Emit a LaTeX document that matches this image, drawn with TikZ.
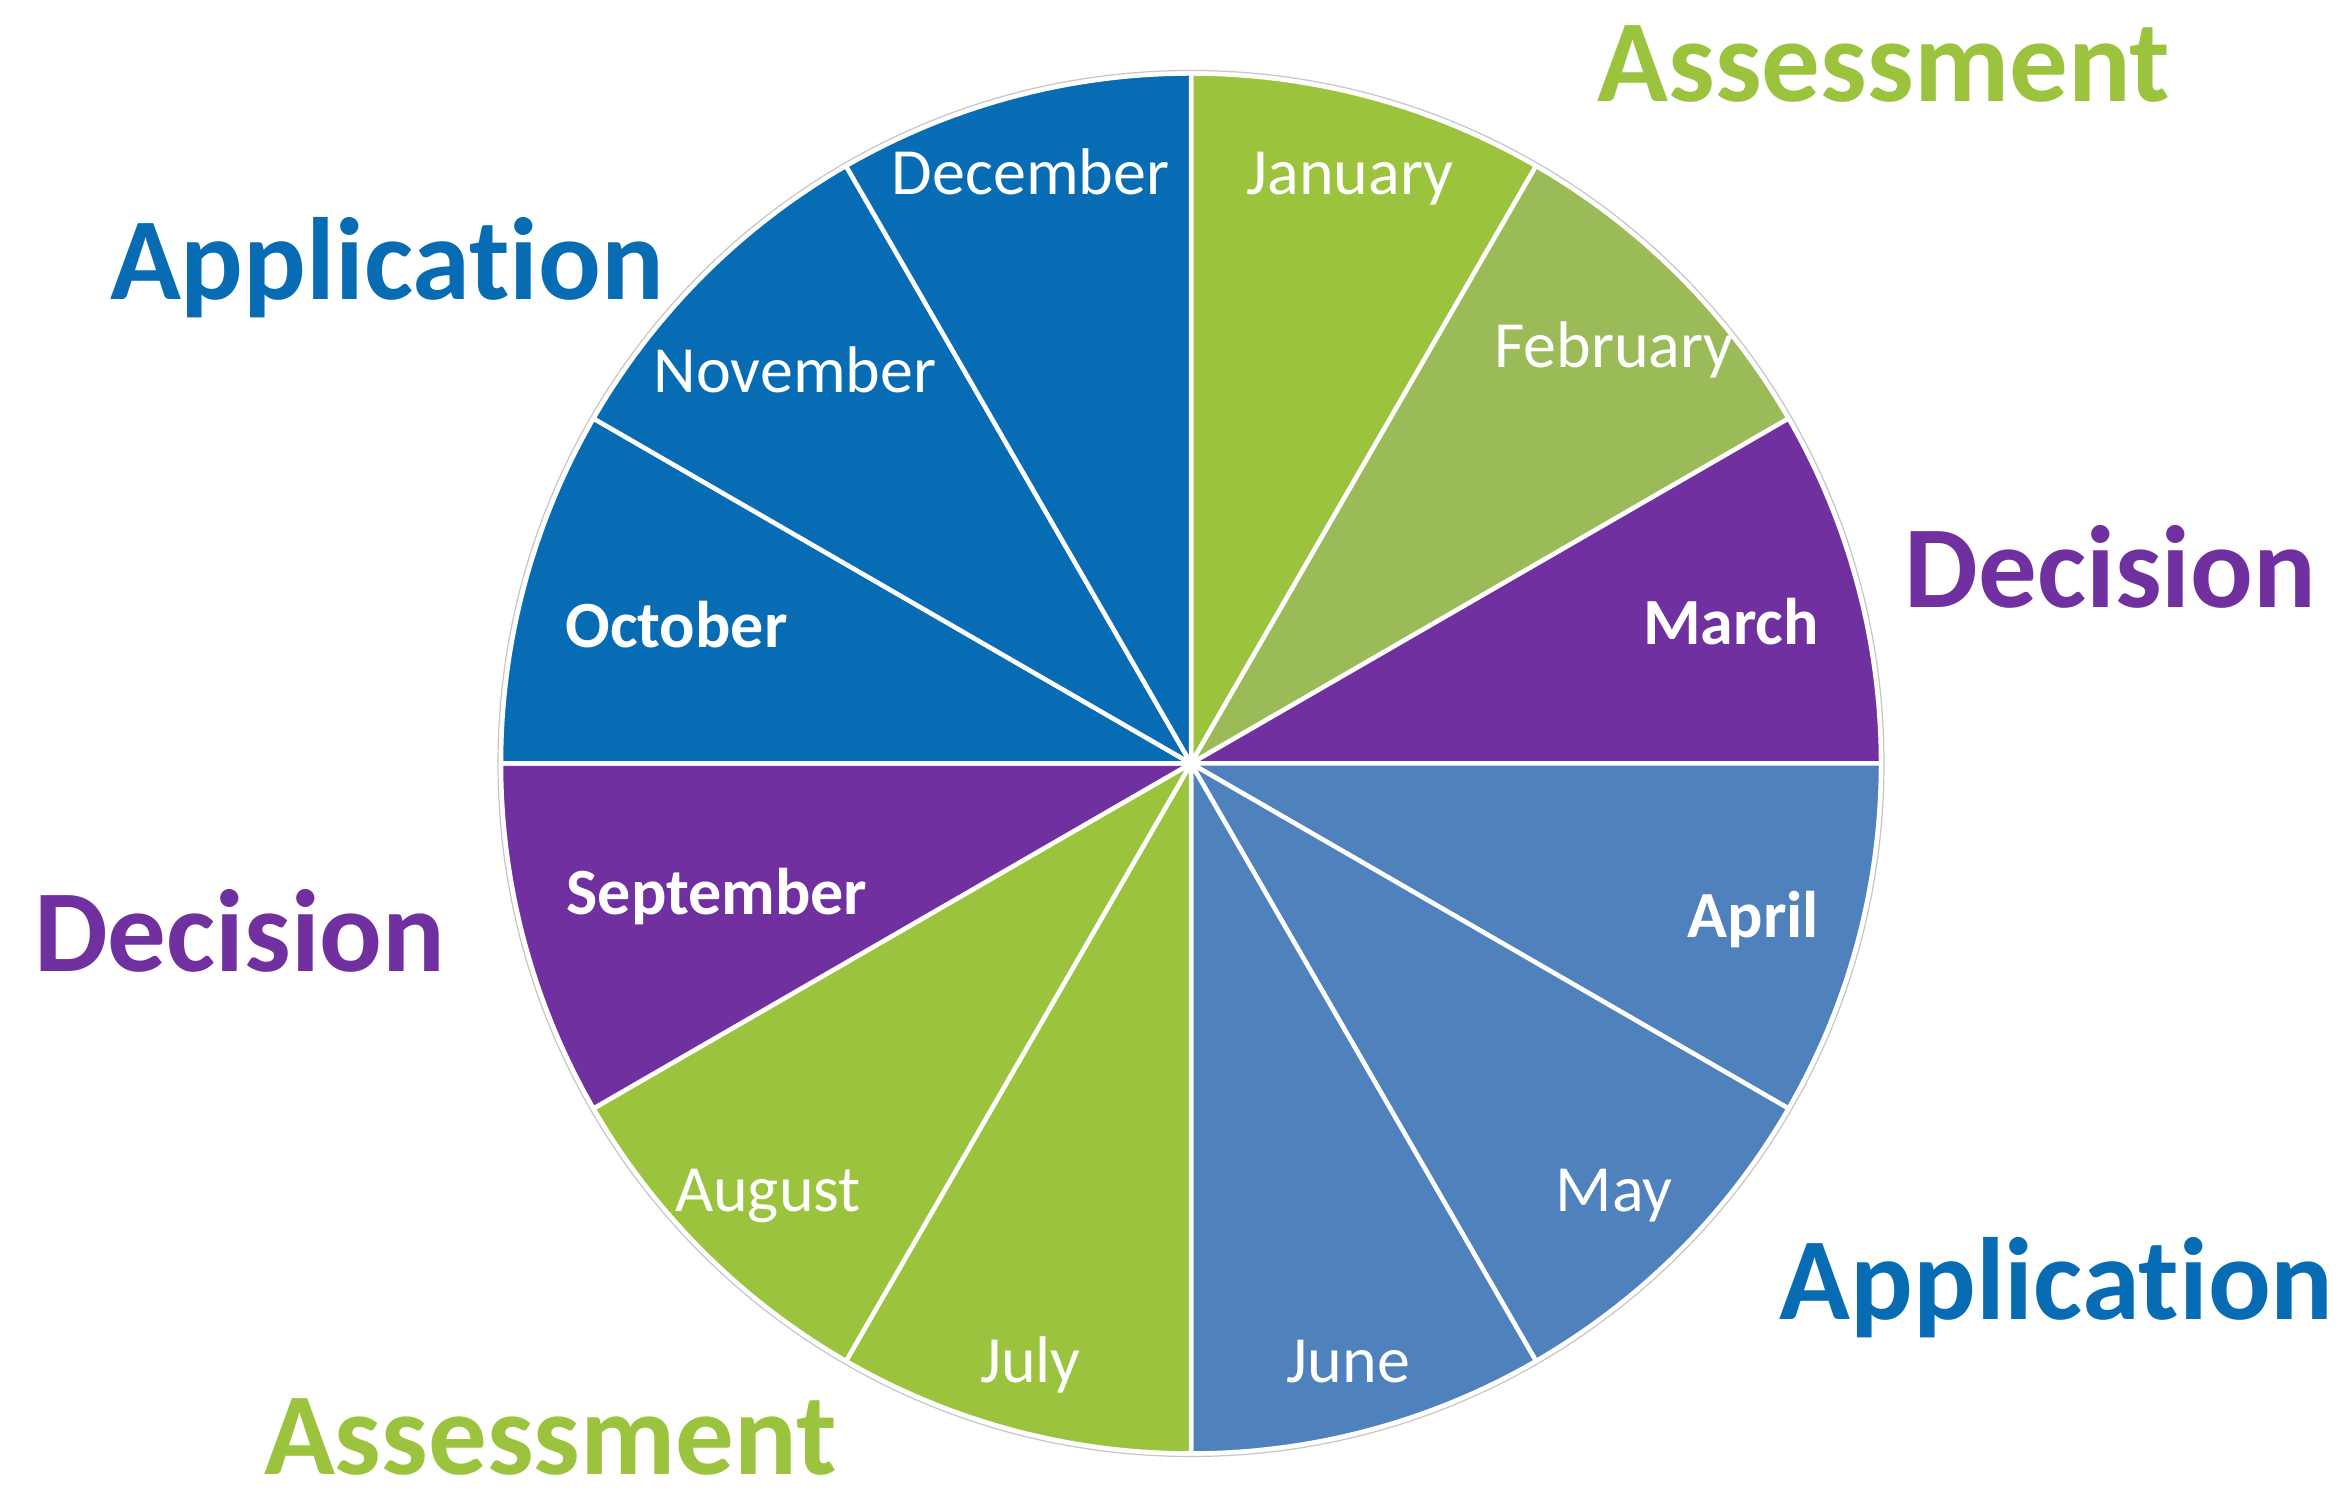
\documentclass[tikz,border=0pt]{standalone}
\usepackage{fontspec}
\setmainfont{Carlito}[Ligatures={NoCommon,NoContextual}]
\definecolor{appblue}{RGB}{7,108,179}
\definecolor{assessgreen}{RGB}{155,195,61}
\definecolor{olivegreen}{RGB}{155,187,89}
\definecolor{decpurple}{RGB}{112,48,160}
\definecolor{lightblue}{RGB}{79,129,189}
\usetikzlibrary{calc,positioning}

\begin{document}
\begin{tikzpicture}[x=0.5pt,y=0.5pt,
    slice/.style={draw=white, line width=1.5pt, line join=round},
    month/.style={text=white, font=\fontsize{22}{24}\selectfont, anchor=base, inner sep=0pt},
    boldmonth/.style={month, font=\fontsize{22}{24}\selectfont\bfseries},
    phase/.style={font=\fontsize{39}{44}\selectfont\bfseries, anchor=base, inner sep=0pt}]
    \useasboundingbox (0,0) rectangle (1564,1000.7);
    \coordinate (hub) at (794,491.7);
    % one slice per month, clockwise from January
    \foreach \start/\col in {90/assessgreen,60/olivegreen,30/decpurple,0/lightblue,-30/lightblue,-60/lightblue,-90/assessgreen,-120/assessgreen,-150/decpurple,-180/appblue,-210/appblue,-240/appblue}
        \filldraw[slice, fill=\col] (hub) -- ++(\start:460) arc[start angle=\start, end angle=\start-30, radius=460] -- cycle;
    \draw[gray!45, line width=0.4pt] (hub) circle[radius=462];

    % months
    \node[month] (jan) at (900,870.7) {January};
    \node[month] (feb) at (1076,755.7) {February};
    \node[boldmonth] (mar) at (1154,570.7) {March};
    \node[boldmonth] (apr) at (1169,375.7) {April};
    \node[month] (may) at (1076,192.7) {May};
    \node[month] (jun) at (899,78.7) {June};
    \node[month] (jul) at (687,78.7) {July};
    \node[month] (aug) at (512,192.7) {August};
    \node[boldmonth] (sep) at (478,390.7) {September};
    \node[boldmonth] (oct) at (451,568.7) {October};
    \node[month] (nov) at (530,738.7) {November};
    \node[month] (dec) at (687,870.7) {December};

    % phases
    \node[phase, text=assessgreen] (assessTop) at (1256,932.7) {Assessment};
    \node[phase, text=appblue] (appLeft) at (258,800.7) {Application};
    \node[phase, text=decpurple] (decRight) at (1407,595.7) {Decision};
    \node[phase, text=decpurple] (decLeft) at (160,352.7) {Decision};
    \node[phase, text=appblue] (appRight) at (1371,120.7) {Application};
    \node[phase, text=assessgreen] (assessBottom) at (367,18) {Assessment};
\end{tikzpicture}
\end{document}
